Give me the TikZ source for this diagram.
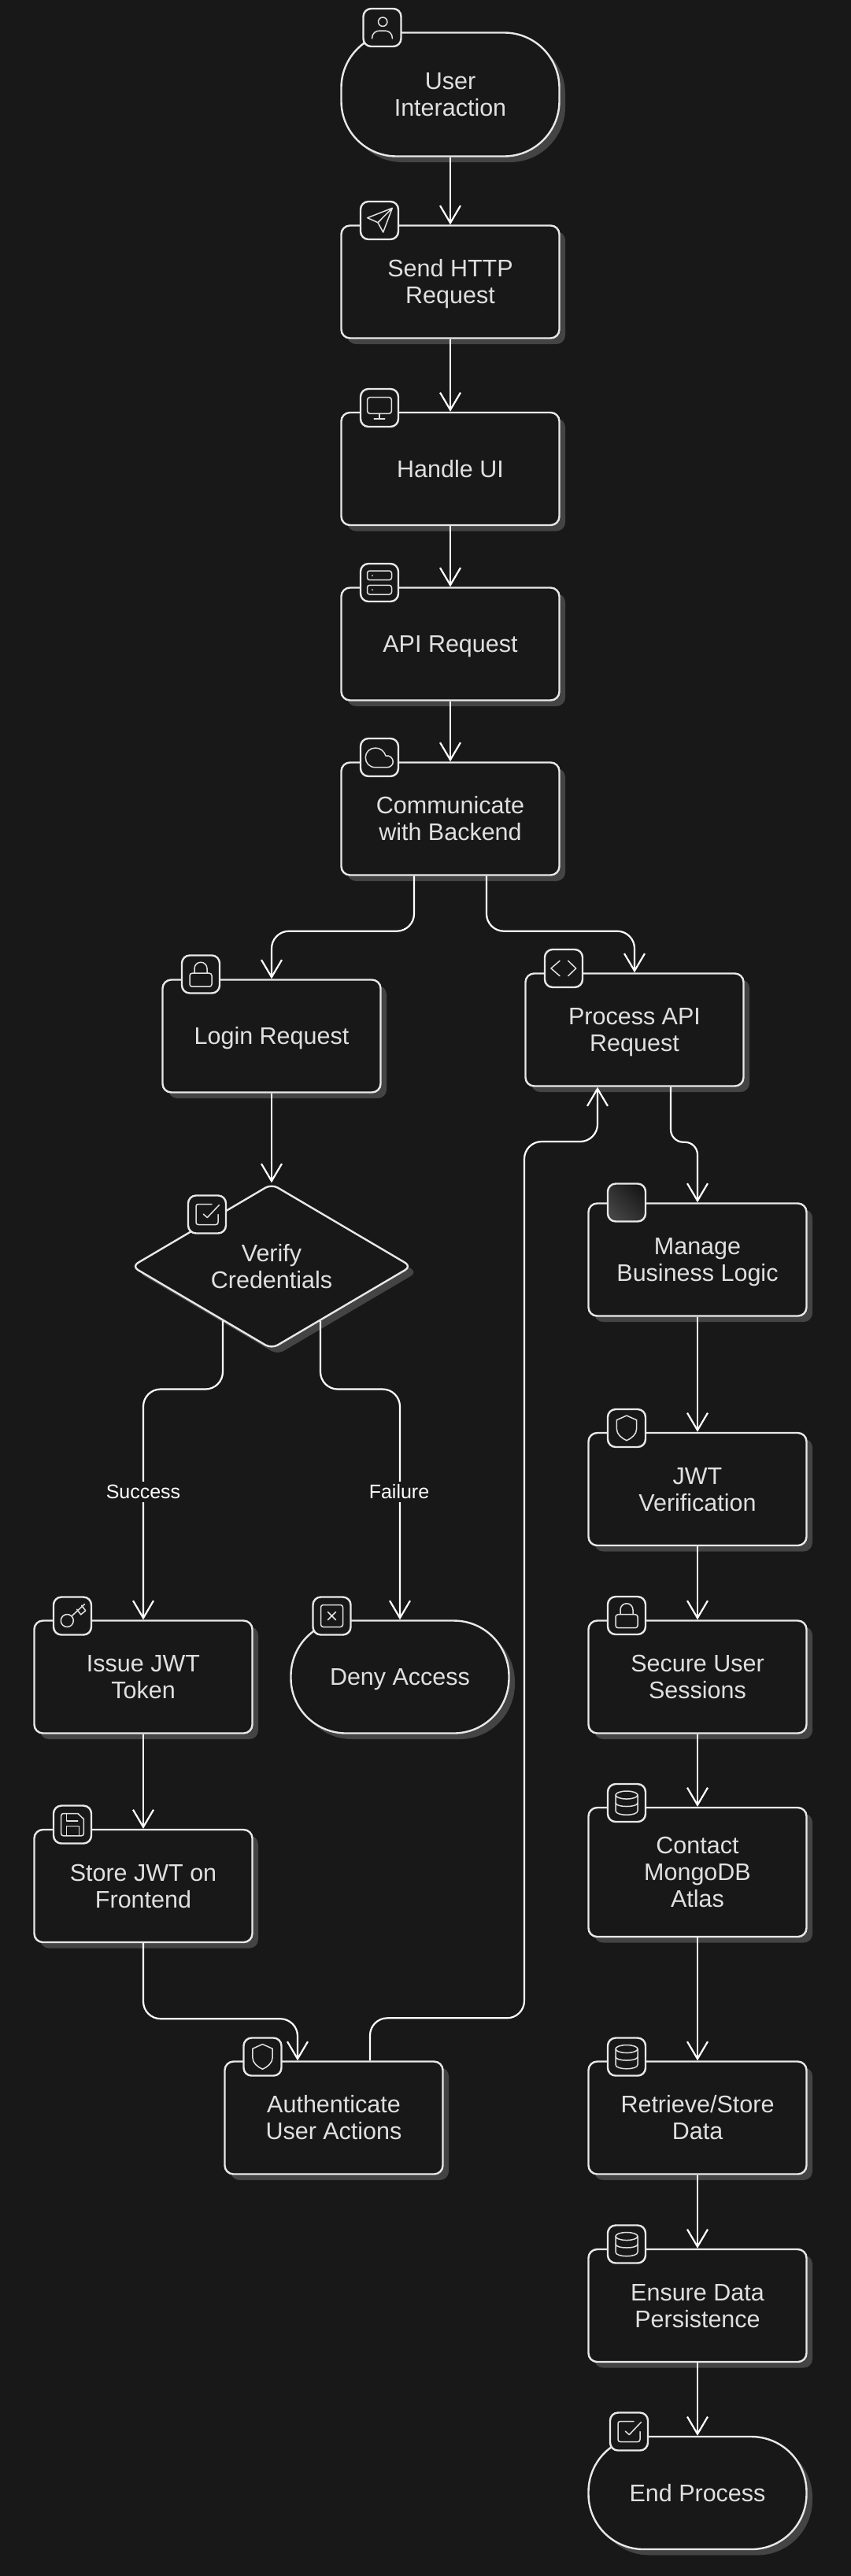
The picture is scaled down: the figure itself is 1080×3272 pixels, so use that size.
\documentclass[tikz,border=0pt]{standalone}
\usepackage{fontspec}
\setmainfont{Liberation Sans}
\usetikzlibrary{arrows.meta, shapes.geometric, shadows, shadings}
\definecolor{bgcol}{HTML}{181818}
\definecolor{shadowcol}{HTML}{444444}
\definecolor{linecol}{HTML}{E8E8E8}
\definecolor{textcol}{HTML}{E0E0E0}
\tikzset{
  base/.style={draw=linecol, fill=bgcol, line width=2.4pt, text=textcol, align=center,
    font=\fontsize{30.5}{34}\selectfont, inner sep=0pt, text height=31pt, text depth=10pt,
    drop shadow={shadow xshift=7.5pt, shadow yshift=-7.5pt, fill=shadowcol, opacity=1}},
  twolines/.style={text height=65pt},
  threelines/.style={text height=99pt},
  procbox/.style={base, rectangle, rounded corners=11pt, minimum width=277pt, minimum height=143pt},
  termbox/.style={base, rectangle, rounded corners=70pt, minimum width=277pt, minimum height=143pt},
  decbox/.style={base, diamond, rounded corners=9pt, shape aspect=1.7, minimum width=356pt, minimum height=210pt},
  iconbox/.style={draw=linecol, fill=bgcol, line width=2.4pt, rectangle, rounded corners=10pt, minimum width=48pt, minimum height=48pt, inner sep=0pt},
  edgelabel/.style={fill=bgcol, text=white, font=\fontsize{25}{28}\selectfont, inner sep=4pt},
  flow/.style={draw=white, line width=2.2pt, rounded corners=22pt, -{Straight Barb[length=22pt, width=26pt, line width=2.2pt]}},
  glyph/.style={draw=textcol, line width=1.5pt, line join=round, line cap=round},
  pics/useric/.style={code={\draw[glyph] (0.7,-7.3) circle (5.7pt);
    \draw[glyph] (-13,14) .. controls (-13,7) and (-8,4) .. (-3,4) -- (3,4) .. controls (8,4) and (13,7) .. (13,14);}},
  pics/sendic/.style={code={\draw[glyph] (16.3,-15.7) -- (-15.3,-3.3) -- (-2,2.7) -- (4.7,15) -- cycle (-2,2.7) -- (16.3,-15.7);}},
  pics/screenic/.style={code={\draw[glyph, rounded corners=3pt] (-15.3,-13.3) rectangle (15.3,7.3);
    \draw[glyph] (0,7.3) -- (0,14) (-6.7,14) -- (6.7,14);}},
  pics/serveric/.style={code={\draw[glyph, rounded corners=3pt] (-15.5,-15) rectangle (15.5,-3.3) (-15.5,3.3) rectangle (15.5,15);
    \fill[textcol] (-9,-9) circle (1pt) (-9,9) circle (1pt);}},
  pics/cloudic/.style={code={\draw[glyph] (9.5,12.7) -- (-5,12.7) .. controls (-13,12.7) and (-17.7,7) .. (-17.7,0) .. controls (-17.7,-7) and (-12,-12) .. (-5,-12) .. controls (1,-12) and (6,-8) .. (8,-2) .. controls (13,-3) and (17.3,1) .. (17.3,5.5) .. controls (17.3,9.5) and (14,12.7) .. (9.5,12.7) -- cycle;}},
  pics/lockic/.style={code={\draw[glyph, rounded corners=3pt] (-14,-1.3) rectangle (14,15.7);
    \draw[glyph] (-8,-1.3) -- (-8,-7.3) arc[start angle=180, end angle=0, radius=8pt] -- (8,-1.3);}},
  pics/checkic/.style={code={\draw[glyph] (6,-13) -- (-11,-13) .. controls (-13,-13) and (-14,-12) .. (-14,-10) -- (-14,10) .. controls (-14,12) and (-13,13) .. (-11,13) -- (11,13) .. controls (13,13) and (14,12) .. (14,10) -- (14,0);
    \draw[glyph] (-4.7,-0.4) -- (0.3,4) -- (15.3,-11.8);}},
  pics/codeic/.style={code={\draw[glyph] (-5,-9.6) -- (-16,0) -- (-5,9.6) (5.7,-9.6) -- (15.7,0) -- (5.7,9.6);}},
  pics/keyic/.style={code={\draw[glyph] (-6.7,6) circle (8pt);
    \draw[glyph] (-0.7,0) -- (15.5,-15) (5.7,-8.3) -- (10.7,-1.7) -- (16.7,-6.7) (11.7,-13.3) -- (16.7,-6.7);}},
  pics/saveic/.style={code={\draw[glyph] (-11.3,-14) -- (7,-14) -- (14.3,-7) -- (14.3,11.3) .. controls (14.3,13.3) and (13.3,14.3) .. (11.3,14.3) -- (-11.3,14.3) .. controls (-13.3,14.3) and (-14.3,13.3) .. (-14.3,11.3) -- (-14.3,-11) .. controls (-14.3,-13) and (-13.3,-14) .. (-11.3,-14) -- cycle;
    \draw[glyph] (-7.7,-13.3) -- (-7.7,-4.7) -- (6.7,-4.7) (-7.7,14) -- (-7.7,2) -- (8.3,2) -- (8.3,14);}},
  pics/shieldic/.style={code={\draw[glyph] (0,-16) -- (12.7,-10.3) -- (12.7,0.7) .. controls (12.7,8) and (6,13) .. (0,15.7) .. controls (-6,13) and (-12.7,8) .. (-12.7,0.7) -- (-12.7,-10.3) -- cycle;}},
  pics/dbic/.style={code={\draw[glyph] (0,-10) ellipse (14pt and 5pt);
    \draw[glyph] (-14,-10) -- (-14,10) .. controls (-14,17) and (14,17) .. (14,10) -- (14,-10);
    \draw[glyph] (-14,0) .. controls (-14,6) and (14,6) .. (14,0);}},
  pics/denyic/.style={code={\draw[glyph, rounded corners=3pt] (-14,-14) rectangle (14,14);
    \draw[glyph] (-5,-5) -- (5,5) (-5,5) -- (5,-5);}}
}
\begin{document}
\begin{tikzpicture}[x=1pt, y=-1pt]
\useasboundingbox (0,0) rectangle (1080,3272);
\fill[bgcol] (-5,-5) rectangle (1085,3277);

% left and middle column
\node[termbox, twolines, minimum height=157pt] (user) at (572,120) {User\\Interaction};
\node[procbox, twolines] (send) at (572,358) {Send HTTP\\Request};
\node[procbox] (ui) at (572,595.5) {Handle UI};
\node[procbox] (api) at (572,818) {API Request};
\node[procbox, twolines] (comm) at (572,1040) {Communicate\\with Backend};
\node[procbox] (login) at (345,1316) {Login Request};
\node[decbox, twolines] (verify) at (345,1608.5) {Verify\\Credentials};
\node[procbox, twolines] (issue) at (182,2130) {Issue JWT\\Token};
\node[termbox] (deny) at (508,2130) {Deny Access};
\node[procbox, twolines] (store) at (182,2395.5) {Store JWT on\\Frontend};
\node[procbox, twolines] (auth) at (424,2690) {Authenticate\\User Actions};

% right column
\node[procbox, twolines] (proc) at (806,1308) {Process API\\Request};
\node[procbox, twolines] (manage) at (886,1600) {Manage\\Business Logic};
\node[procbox, twolines] (jwt) at (886,1891.5) {JWT\\Verification};
\node[procbox, twolines] (secure) at (886,2130) {Secure User\\Sessions};
\node[procbox, threelines, minimum height=164pt] (mongo) at (886,2378) {Contact\\MongoDB\\Atlas};
\node[procbox, twolines] (retrieve) at (886,2690) {Retrieve/Store\\Data};
\node[procbox, twolines] (persist) at (886,2928.5) {Ensure Data\\Persistence};
\node[termbox] (finish) at (886,3166.5) {End Process};

% connectors
\coordinate (backturn) at (666,1450);
\draw[flow] (user) -- (send);
\draw[flow] (send) -- (ui);
\draw[flow] (ui) -- (api);
\draw[flow] (api) -- (comm);
\draw[flow] ([xshift=-46pt]comm.south) -- ++(0,70) -| (login.north);
\draw[flow] ([xshift=46pt]comm.south) -- ++(0,70) -| (proc.north);
\draw[flow] (login) -- (verify);
\draw[flow] ([xshift=-62pt,yshift=-69pt]verify.center) -- ++(0,87) -| (issue.north);
\draw[flow] ([xshift=62pt,yshift=-69pt]verify.center) -- ++(0,87) -| (deny.north);
\draw[flow] (issue) -- (store);
\draw[flow] (store.south) -- ++(0,96) -| ([xshift=-46pt]auth.north);
\draw[flow] ([xshift=46pt]auth.north) -- ++(0,-54) -| (backturn) -| ([xshift=-47pt]proc.south);
\draw[flow, rounded corners=16pt] ([xshift=46pt]proc.south) -- ++(0,70) -| (manage.north);
\draw[flow] (manage) -- (jwt);
\draw[flow] (jwt) -- (secure);
\draw[flow] (secure) -- (mongo);
\draw[flow] (mongo) -- (retrieve);
\draw[flow] (retrieve) -- (persist);
\draw[flow] (persist) -- (finish);

\node[edgelabel] (succ) at (182,1895) {Success};
\node[edgelabel] (fail) at (507,1895) {Failure};

% icon tabs
\node[iconbox] (useri) at (485.5,35) {}; \pic at (useri) {useric};
\node[iconbox] (sendi) at (482,280) {}; \pic at (sendi) {sendic};
\node[iconbox] (uii) at (482,518) {}; \pic at (uii) {screenic};
\node[iconbox] (apii) at (482,740) {}; \pic at (apii) {serveric};
\node[iconbox] (commi) at (482,962) {}; \pic at (commi) {cloudic};
\node[iconbox] (logini) at (255,1237.5) {}; \pic at (logini) {lockic};
\node[iconbox] (verifyi) at (263,1542.5) {}; \pic at (verifyi) {checkic};
\node[iconbox] (issuei) at (92,2052.5) {}; \pic at (issuei) {keyic};
\node[iconbox] (denyi) at (421.5,2052.5) {}; \pic at (denyi) {denyic};
\node[iconbox] (storei) at (92,2317.5) {}; \pic at (storei) {saveic};
\node[iconbox] (authi) at (333.5,2612.5) {}; \pic at (authi) {shieldic};
\node[iconbox] (proci) at (716,1230) {}; \pic at (proci) {codeic};
\node[iconbox, top color=shadowcol, bottom color=bgcol, shading angle=135] (managei) at (796,1527.5) {};
\node[iconbox] (jwti) at (796,1814) {}; \pic at (jwti) {shieldic};
\node[iconbox] (securei) at (796,2052) {}; \pic at (securei) {lockic};
\node[iconbox] (mongoi) at (796,2290) {}; \pic at (mongoi) {dbic};
\node[iconbox] (retrievei) at (796,2612.5) {}; \pic at (retrievei) {dbic};
\node[iconbox] (persisti) at (796,2850.5) {}; \pic at (persisti) {dbic};
\node[iconbox] (finishi) at (799,3088.5) {}; \pic at (finishi) {checkic};
\end{tikzpicture}
\end{document}
